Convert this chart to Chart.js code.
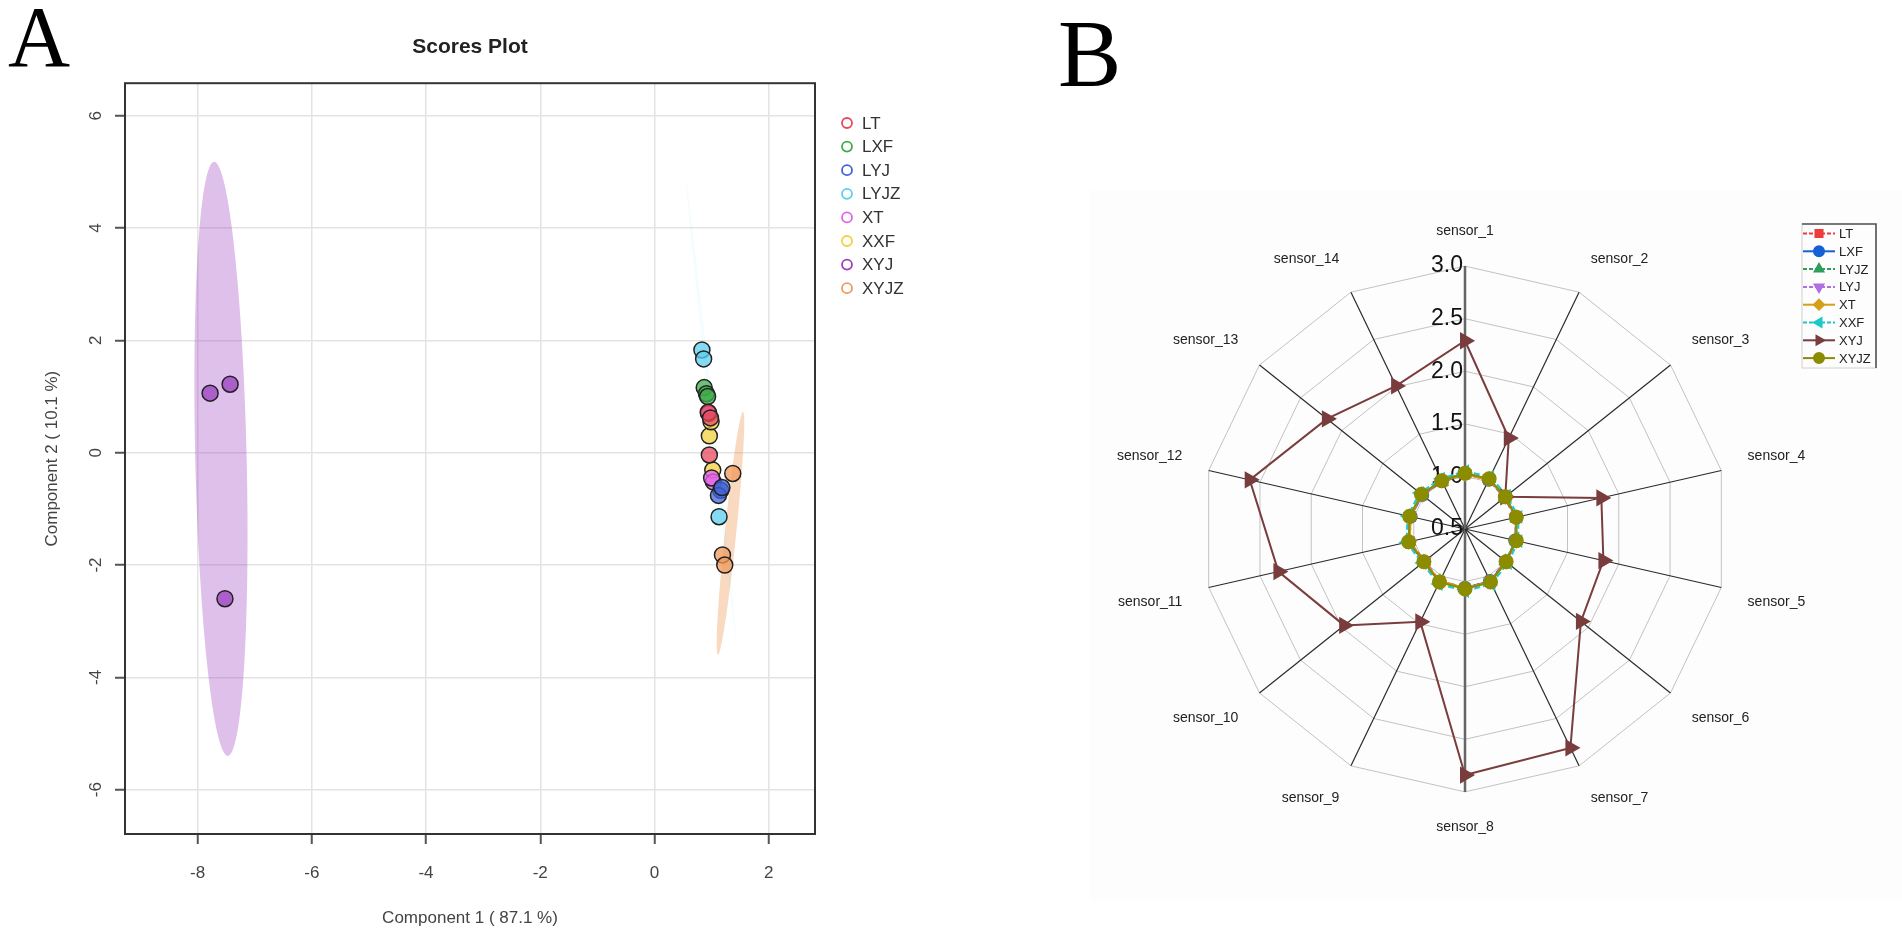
<!DOCTYPE html>
<html>
<head>
<meta charset="utf-8">
<title>Scores Plot / sensor radar</title>
<script src="https://cdn.jsdelivr.net/npm/chart.js@4.4.1/dist/chart.umd.min.js"></script>
<style>
    html, body { margin: 0; padding: 0; background: #fff; }
    body { width: 1902px; height: 937px; position: relative; overflow: hidden; }
    .tag { position: absolute; font-family: "Liberation Serif", "Times New Roman", serif; line-height: 1; color: #000; z-index: 2; }
    #wrapA { position: absolute; left: 0; top: 0; width: 950px; height: 937px; }
    #wrapB { position: absolute; left: 1090px; top: 190px; width: 812px; height: 710px; background: #fdfdfd; }
</style>
</head>
<body>
<div id="wrapA"><canvas id="scoresChart"></canvas></div>
<div id="wrapB"><canvas id="radarChart"></canvas></div>
<div class="tag" style="left:8px; top:-6px; font-size:86px;">A</div>
<div class="tag" style="left:1058px; top:7px; font-size:95px;">B</div>

<script>
// ---- Panel A data (PLS-DA scores) ----
const groups = ['LT', 'LXF', 'LYJ', 'LYJZ', 'XT', 'XXF', 'XYJ', 'XYJZ'];
const comp1 = [
    [0.94, 0.96, 0.98],
    [0.87, 0.91, 0.93],
    [1.16, 1.12, 1.18],
    [0.83, 0.86, 1.13],
    [0.95, 1.03, 1.00],
    [0.96, 1.02, 0.99],
    [-7.78, -7.43, -7.52],
    [1.37, 1.19, 1.23]
];
const comp2 = [
    [0.72, -0.04, 0.62],
    [1.16, 1.05, 1.00],
    [-0.67, -0.76, -0.62],
    [1.83, 1.67, -1.14],
    [0.70, -0.52, -0.45],
    [0.30, -0.31, 0.55],
    [1.06, 1.22, -2.60],
    [-0.37, -1.82, -2.00]
];
const xTicks = [-8, -6, -4, -2, 0, 2];
const yTicks = [-6, -4, -2, 0, 2, 4, 6];

// confidence ellipses: ends of the long axis and half width (component 1 units)
const ellipseGroups = ['XYJ', 'XYJZ', 'LYJZ'];
const ellipseTop = [[-7.71, 5.18], [1.55, 0.73], [0.55, 4.86]];
const ellipseBottom = [[-7.47, -5.40], [1.11, -3.60], [1.43, -3.33]];
const ellipseHalfWidth = [0.45, 0.10, 0.03];

// ---- Panel B data (e-nose radar) ----
const sensors = ['sensor_1', 'sensor_2', 'sensor_3', 'sensor_4', 'sensor_5', 'sensor_6', 'sensor_7',
                 'sensor_8', 'sensor_9', 'sensor_10', 'sensor_11', 'sensor_12', 'sensor_13', 'sensor_14'];
const radarTicks = [0.5, 1.0, 1.5, 2.0, 2.5, 3.0];
const radarGroups = ['LT', 'LXF', 'LYJZ', 'LYJ', 'XT', 'XXF', 'XYJ', 'XYJZ'];
const ltValues   = [1.02, 1.02, 0.98, 0.99, 1.00, 0.99, 1.05, 1.06, 1.05, 0.99, 1.04, 1.03, 1.02, 1.00];
const lxfValues  = [1.03, 1.02, 0.99, 1.00, 0.99, 1.00, 1.05, 1.06, 1.06, 1.00, 1.05, 1.03, 1.02, 1.01];
const lyjzValues = [1.02, 1.03, 0.98, 1.00, 1.00, 0.99, 1.06, 1.06, 1.05, 1.00, 1.04, 1.04, 1.03, 1.00];
const lyjValues  = [1.03, 1.03, 0.99, 0.99, 1.00, 1.00, 1.05, 1.07, 1.06, 0.99, 1.05, 1.04, 1.02, 1.01];
const xtValues   = [1.02, 1.02, 0.99, 1.00, 1.00, 1.00, 1.06, 1.06, 1.05, 1.00, 1.04, 1.03, 1.03, 1.01];
const xxfValues  = [1.05, 1.05, 1.01, 1.02, 1.02, 1.02, 1.08, 1.09, 1.08, 1.02, 1.07, 1.06, 1.05, 1.03];
const xyjValues  = [2.29, 1.46, 0.99, 1.83, 1.85, 1.91, 2.81, 2.84, 1.48, 1.97, 2.32, 2.60, 2.18, 2.01];
const xyjzValues = [1.03, 1.03, 0.99, 1.00, 1.00, 1.00, 1.06, 1.07, 1.06, 1.00, 1.05, 1.04, 1.03, 1.01];

const FONT = '"Liberation Sans", Arial, sans-serif';

// ---- Panel A ----
const groupColors = ['#e8495f', '#3daa4a', '#4263d9', '#5bcfef', '#e463e8', '#f3d03e', '#9b3fc0', '#f19a5b'];
const ellipseFill = ['rgba(155, 63, 192, 0.33)', 'rgba(241, 154, 91, 0.38)', 'rgba(91, 207, 239, 0.07)'];

function withAlpha(hex, a) {
    const n = parseInt(hex.slice(1), 16);
    return `rgba(${(n >> 16) & 255}, ${(n >> 8) & 255}, ${n & 255}, ${a})`;
}

const ellipsePlugin = {
    id: 'groupEllipses',
    beforeDatasetsDraw(chart) {
        const { ctx, chartArea, scales: { x, y } } = chart;
        ctx.save();
        ctx.beginPath();
        ctx.rect(chartArea.left, chartArea.top, chartArea.width, chartArea.height);
        ctx.clip();
        ellipseGroups.forEach((g, i) => {
            const x1 = x.getPixelForValue(ellipseTop[i][0]);
            const y1 = y.getPixelForValue(ellipseTop[i][1]);
            const x2 = x.getPixelForValue(ellipseBottom[i][0]);
            const y2 = y.getPixelForValue(ellipseBottom[i][1]);
            const half = Math.abs(x.getPixelForValue(ellipseHalfWidth[i]) - x.getPixelForValue(0));
            ctx.beginPath();
            ctx.ellipse((x1 + x2) / 2, (y1 + y2) / 2, Math.hypot(x2 - x1, y2 - y1) / 2, half,
                        Math.atan2(y2 - y1, x2 - x1), 0, Math.PI * 2);
            ctx.fillStyle = ellipseFill[i];
            ctx.fill();
        });
        ctx.restore();
    },
    afterDraw(chart) {
        const { ctx, chartArea } = chart;
        ctx.save();
        // frame round the plot
        ctx.strokeStyle = '#333';
        ctx.lineWidth = 2;
        ctx.strokeRect(chartArea.left, chartArea.top, chartArea.width, chartArea.height);
        // legend with open circles
        ctx.font = `17px ${FONT}`;
        ctx.textBaseline = 'middle';
        groups.forEach((g, i) => {
            const ly = 123 + i * 23.6;
            ctx.beginPath();
            ctx.arc(847, ly, 5, 0, Math.PI * 2);
            ctx.strokeStyle = groupColors[i];
            ctx.lineWidth = 1.8;
            ctx.stroke();
            ctx.fillStyle = '#333';
            ctx.fillText(g, 862, ly + 1);
        });
        ctx.restore();
    }
};

const axisGrid = { color: '#e3e3e3', lineWidth: 1.5, drawTicks: true, tickLength: 10, tickColor: '#555', tickWidth: 2 };

new Chart(document.getElementById('scoresChart'), {
    type: 'scatter',
    data: {
        datasets: groups.map((g, i) => ({
            label: g,
            data: comp1[i].map((v, j) => ({ x: v, y: comp2[i][j] })),
            backgroundColor: withAlpha(groupColors[i], 0.75),
            borderColor: '#222',
            borderWidth: 1.5,
            pointRadius: 8
        }))
    },
    options: {
        responsive: true,
        maintainAspectRatio: false,
        animation: false,
        layout: { padding: { top: 0, right: 135, bottom: 0, left: 0 } },
        plugins: {
            legend: { display: false },
            tooltip: { enabled: false },
            title: {
                display: true,
                text: 'Scores Plot',
                fullSize: false,
                color: '#222',
                font: { family: FONT, size: 21, weight: 'bold' },
                padding: { top: 35, bottom: 23 }
            }
        },
        scales: {
            x: {
                type: 'linear',
                min: -9.27,
                max: 2.81,
                afterBuildTicks: s => { s.ticks = xTicks.map(v => ({ value: v })); },
                afterFit: s => { s.height = 103; },
                grid: axisGrid,
                border: { display: false },
                ticks: { color: '#444', font: { family: FONT, size: 17 }, padding: 19 },
                title: {
                    display: true,
                    text: 'Component 1 ( 87.1 %)',
                    color: '#444',
                    font: { family: FONT, size: 17 },
                    padding: { top: 0, bottom: 8 }
                }
            },
            y: {
                type: 'linear',
                min: -6.79,
                max: 6.58,
                afterBuildTicks: s => { s.ticks = yTicks.map(v => ({ value: v })); },
                afterFit: s => { s.width = 125; },
                grid: axisGrid,
                border: { display: false },
                ticks: {
                    color: '#444',
                    font: { family: FONT, size: 17 },
                    minRotation: 90,
                    maxRotation: 90,
                    crossAlign: 'center',
                    padding: 11
                },
                title: {
                    display: true,
                    text: 'Component 2 ( 10.1 %)',
                    color: '#444',
                    font: { family: FONT, size: 17 },
                    padding: { top: 42, bottom: 0 }
                }
            }
        }
    },
    plugins: [ellipsePlugin]
});

// ---- Panel B ----
const radarColors = ['#ee3b3b', '#1560d6', '#2e9e5b', '#b070e0', '#d4a019', '#1cc8c8', '#7a3d3d', '#8c8c00'];
const radarMarkers = ['rect', 'circle', 'triangle', 'triangle', 'rectRot', 'triangle', 'triangle', 'circle'];
const radarMarkerTurn = [0, 0, 0, 180, 0, 270, 90, 0];
const radarDash = [[6, 3], [], [6, 3], [6, 3], [], [6, 3], [], []];
const radarSeries = [ltValues, lxfValues, lyjzValues, lyjValues, xtValues, xxfValues, xyjValues, xyjzValues];

const radarExtras = {
    id: 'radarExtras',
    beforeDatasetsDraw(chart) {
        const { ctx } = chart;
        const r = chart.scales.r;
        ctx.save();
        ctx.font = `23px ${FONT}`;
        ctx.fillStyle = '#111';
        ctx.textAlign = 'right';
        ctx.textBaseline = 'middle';
        radarTicks.forEach(v => {
            ctx.fillText(v.toFixed(1), r.xCenter - 2, r.yCenter - r.getDistanceFromCenterForValue(v));
        });
        ctx.restore();
    },
    afterDraw(chart) {
        const { ctx } = chart;
        const ox = 1090, oy = 190;
        ctx.save();
        ctx.translate(-ox, -oy);
        // legend frame
        ctx.strokeStyle = '#d0d0d0';
        ctx.lineWidth = 1;
        ctx.strokeRect(1802, 224, 74, 144);
        ctx.strokeStyle = '#555';
        ctx.lineWidth = 1.6;
        ctx.beginPath();
        ctx.moveTo(1802, 224);
        ctx.lineTo(1876, 224);
        ctx.lineTo(1876, 368);
        ctx.stroke();
        ctx.font = `13px ${FONT}`;
        ctx.textBaseline = 'middle';
        chart.data.datasets.forEach((ds, i) => {
            const ly = 233.5 + i * 17.8;
            ctx.strokeStyle = ds.borderColor;
            ctx.lineWidth = 2;
            ctx.setLineDash(radarDash[i].length ? [4, 2] : []);
            ctx.beginPath();
            ctx.moveTo(1803, ly);
            ctx.lineTo(1835, ly);
            ctx.stroke();
            ctx.setLineDash([]);
            ctx.fillStyle = ds.borderColor;
            Chart.helpers.drawPoint(ctx, {
                pointStyle: ds.pointStyle,
                rotation: ds.pointRotation,
                radius: 5,
                borderWidth: 1
            }, 1819, ly);
            ctx.fill();
            ctx.fillStyle = '#222';
            ctx.fillText(radarGroups[i], 1839, ly + 1);
        });
        ctx.restore();
    }
};

new Chart(document.getElementById('radarChart'), {
    type: 'radar',
    data: {
        labels: sensors,
        datasets: radarGroups.map((g, i) => ({
            label: g,
            data: radarSeries[i],
            borderColor: radarColors[i],
            backgroundColor: radarColors[i],
            pointBackgroundColor: radarColors[i],
            pointBorderColor: radarColors[i],
            pointStyle: radarMarkers[i],
            pointRotation: radarMarkerTurn[i],
            pointRadius: g === 'XYJ' ? 8 : (g === 'XYJZ' ? 6.5 : 6),
            borderWidth: 2,
            borderDash: radarDash[i],
            fill: false,
            order: g === 'XYJZ' ? 0 : (g === 'XYJ' ? 1 : 2 + (7 - i))
        }))
    },
    options: {
        responsive: true,
        maintainAspectRatio: false,
        animation: false,
        layout: { padding: { left: 24, right: 92, top: 9, bottom: 41 } },
        plugins: {
            legend: { display: false },
            tooltip: { enabled: false }
        },
        elements: { line: { tension: 0 } },
        scales: {
            r: {
                min: 0.5,
                max: 3.0,
                ticks: { display: false, stepSize: 0.5 },
                grid: { color: '#c2c2c2', lineWidth: 1 },
                angleLines: {
                    color: ctx => (ctx.index === 0 || ctx.index === 7) ? '#666' : '#2a2a2a',
                    lineWidth: ctx => (ctx.index === 0 || ctx.index === 7) ? 2.5 : 1.2
                },
                pointLabels: { color: '#222', font: { family: FONT, size: 14 }, padding: 27 }
            }
        }
    },
    plugins: [radarExtras]
});
</script>
</body>
</html>
